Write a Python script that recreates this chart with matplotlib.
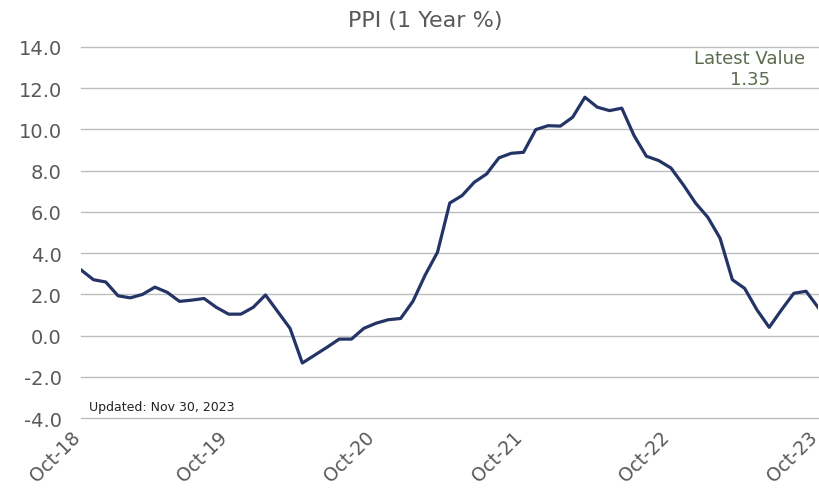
import matplotlib
matplotlib.use("Agg")
import matplotlib.pyplot as plt
import matplotlib.transforms as mtransforms
import numpy as np

# ==== data ====
months = ["Oct-18", "Nov-18", "Dec-18",
          "Jan-19", "Feb-19", "Mar-19", "Apr-19", "May-19", "Jun-19",
          "Jul-19", "Aug-19", "Sep-19", "Oct-19", "Nov-19", "Dec-19",
          "Jan-20", "Feb-20", "Mar-20", "Apr-20", "May-20", "Jun-20",
          "Jul-20", "Aug-20", "Sep-20", "Oct-20", "Nov-20", "Dec-20",
          "Jan-21", "Feb-21", "Mar-21", "Apr-21", "May-21", "Jun-21",
          "Jul-21", "Aug-21", "Sep-21", "Oct-21", "Nov-21", "Dec-21",
          "Jan-22", "Feb-22", "Mar-22", "Apr-22", "May-22", "Jun-22",
          "Jul-22", "Aug-22", "Sep-22", "Oct-22", "Nov-22", "Dec-22",
          "Jan-23", "Feb-23", "Mar-23", "Apr-23", "May-23", "Jun-23",
          "Jul-23", "Aug-23", "Sep-23", "Oct-23"]
ppi = [3.18, 2.71, 2.60,
       1.93, 1.83, 2.00, 2.35, 2.10, 1.66,
       1.72, 1.80, 1.37, 1.04, 1.04, 1.37,
       1.97, 1.16, 0.35, -1.33, -0.95, -0.57,
       -0.17, -0.17, 0.35, 0.60, 0.77, 0.83,
       1.66, 2.94, 4.04, 6.43, 6.79, 7.44,
       7.84, 8.62, 8.84, 8.89, 9.99, 10.18,
       10.16, 10.59, 11.56, 11.08, 10.91, 11.03,
       9.70, 8.70, 8.49, 8.13, 7.32, 6.43,
       5.74, 4.72, 2.71, 2.29, 1.25, 0.40,
       1.25, 2.05, 2.15, 1.35]
tick_labels = ["Oct-18", "Oct-19", "Oct-20", "Oct-21", "Oct-22", "Oct-23"]
y_ticks = np.arange(-4, 14.1, 2)
latest = ppi[-1]

grey = "#595959"

fig = plt.figure(figsize=(8.2, 4.89), dpi=100)
ax = fig.add_axes([0.099, 0.143, 0.899, 0.759])

x = np.arange(len(months))
ax.plot(x, ppi, color="#253466", linewidth=2.3)

ax.set_xlim(0, len(months) - 1)
ax.set_ylim(-4, 14)
ax.set_yticks(y_ticks)
ax.set_yticklabels([f"{v:.1f}" for v in y_ticks], color=grey, fontsize=14)
ax.set_xticks([months.index(t) for t in tick_labels])
ax.set_xticklabels(tick_labels, rotation=45, ha="right", va="center",
                   rotation_mode="anchor", color=grey, fontsize=13.5)
ax.tick_params(axis="y", length=0, pad=14)
ax.tick_params(axis="x", length=0, pad=11)

# nudge the rotated date labels a little to the left so the last one fits
shift = mtransforms.ScaledTranslation(-3 / 72, 0, fig.dpi_scale_trans)
for lbl in ax.get_xticklabels():
    lbl.set_transform(lbl.get_transform() + shift)

ax.grid(axis="y", color="#bdbdbd", linewidth=1.0)
for gl in ax.yaxis.get_gridlines():
    gl.set_clip_on(False)
ax.set_axisbelow(True)
for s in ax.spines.values():
    s.set_visible(False)

fig.text(0.518, 0.958, "PPI (1 Year %)", ha="center", va="center",
         fontsize=16, color=grey)
ax.text(0.907, 0.995, f"Latest Value\n{latest:.2f}", transform=ax.transAxes,
        ha="center", va="top", fontsize=13, color="#5b6b4e", linespacing=1.25)
ax.text(0.01, 0.03, "Updated: Nov 30, 2023", transform=ax.transAxes,
        ha="left", va="center", fontsize=9, color="#222222")

fig.savefig("out.png", dpi=100)
